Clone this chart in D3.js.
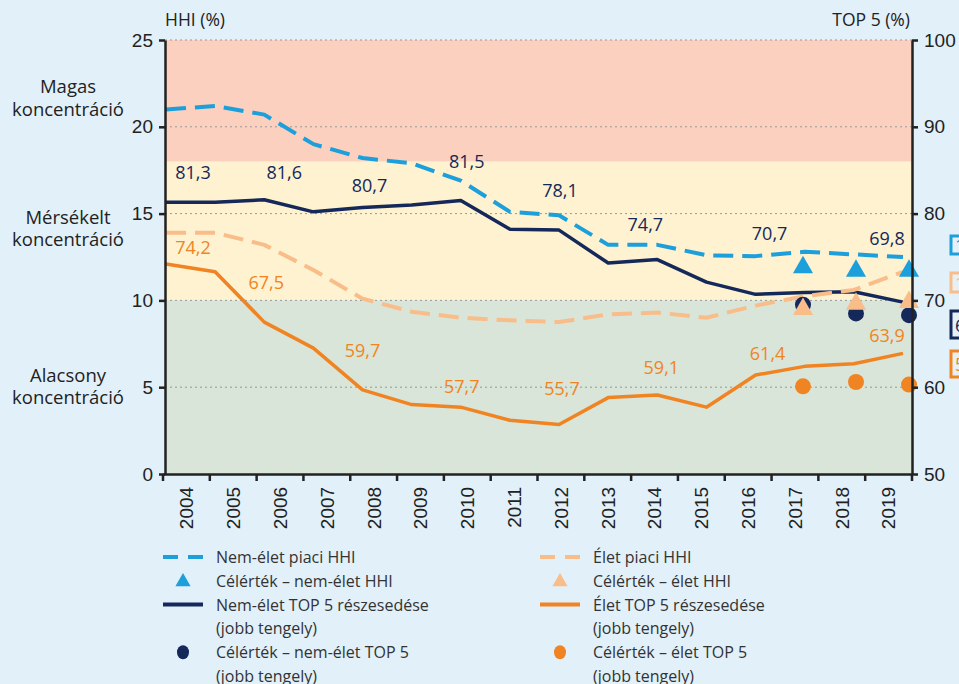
<!DOCTYPE html>
<html>
<head>
<meta charset="utf-8">
<script src="https://cdn.jsdelivr.net/npm/d3@7"></script>
<style>
  body { margin: 0; background: #e1f0f9; }
  svg { display: block; font-family: "Open Sans", sans-serif; }
  .axis path, .axis line { stroke: #222; }
  .axis text { fill: #222; }
</style>
</head>
<body>
<svg width="959" height="684"></svg>
<script>
var years = ["2004","2005","2006","2007","2008","2009","2010","2011","2012","2013","2014","2015","2016","2017","2018","2019"];

// HHI (left axis, %)
var hhiNonLife = [21.0, 21.2, 20.7, 19.0, 18.2, 17.9, 16.9, 15.1, 14.9, 13.2, 13.2, 12.6, 12.55, 12.8, 12.65, 12.5];
var hhiLife    = [13.9, 13.9, 13.2, 11.75, 10.1, 9.35, 9.0, 8.85, 8.75, 9.2, 9.3, 9.0, 9.7, 10.25, 10.6, 11.65];

// TOP 5 share (right axis, %)
var top5NonLife = [81.3, 81.3, 81.6, 80.2, 80.7, 81.0, 81.5, 78.2, 78.1, 74.3, 74.7, 72.1, 70.7, 70.9, 71.0, 69.8];
var top5Life    = [74.2, 73.3, 67.5, 64.5, 59.7, 58.0, 57.7, 56.2, 55.7, 58.8, 59.1, 57.7, 61.4, 62.4, 62.7, 63.9];

// target values
var targetYears = ["2017","2018","2019"];
var targetHhiNonLife  = [11.9, 11.7, 11.7];
var targetHhiLife     = [9.5, 9.8, 9.9];
var targetTop5NonLife = [69.5, 68.5, 68.3];
var targetTop5Life    = [60.1, 60.6, 60.3];

// labelled years
var labelYears = ["2004","2006","2008","2010","2012","2014","2016","2019"];
// label offsets [dx, dy] from the line point
var navyLabelOffsets = [[27,-30],[20,-28],[7,-23],[6,-40],[1,-40],[-12,-36],[14,-61],[-16,-64]];
var orangeLabelOffsets = [[27,-17],[2,-40],[0,-40],[1,-21],[3,-37],[4,-28],[12,-22],[-16,-18]];

var leftTicks = [0, 5, 10, 15, 20, 25];
var rightTicks = [50, 60, 70, 80, 90, 100];

// concentration zones on the HHI axis
var zones = [
  {from: 18, to: 25, color: "#fbd0bf", label: ["Magas", "koncentráció"], mid: 21.6},
  {from: 10, to: 18, color: "#fef2d0", label: ["Mérsékelt", "koncentráció"], mid: 14.1},
  {from: 0,  to: 10, color: "#d8e5d8", label: ["Alacsony", "koncentráció"], mid: 5.0}
];

var cNavy = "#14285a", cOrange = "#f18422", cBlue = "#1c9fdb", cLight = "#f9bd8a";

var svg = d3.select("svg");
var plotLeft = 165, plotRight = 912, plotTop = 40, plotBottom = 474;

var yL = d3.scaleLinear().domain([0, 25]).range([plotBottom, plotTop]);
var yR = d3.scaleLinear().domain([50, 100]).range([plotBottom, plotTop]);
var xBand = d3.scaleBand().domain(years).range([163, 912]);
var x = d3.scalePoint().domain(years).range([166, 903]);
var xT = d3.scalePoint().domain(targetYears).range([803, 909]);

// background zones
svg.selectAll(".zone")
  .data(zones)
  .enter().append("rect")
    .attr("x", plotLeft)
    .attr("y", function(d) { return yL(d.to); })
    .attr("width", plotRight - plotLeft)
    .attr("height", function(d) { return yL(d.from) - yL(d.to); })
    .style("fill", function(d) { return d.color; });

// zone labels
zones.forEach(function(z) {
  var t = svg.append("text")
    .attr("x", 68)
    .attr("y", yL(z.mid))
    .attr("text-anchor", "middle")
    .style("font-size", "18.5px")
    .style("fill", "#222");
  t.append("tspan").attr("x", 68).attr("dy", "-0.3em").text(z.label[0]);
  t.append("tspan").attr("x", 68).attr("dy", "1.22em").text(z.label[1]);
});

// dotted grid
svg.selectAll(".grid")
  .data(leftTicks.slice(1))
  .enter().append("line")
    .attr("x1", plotLeft).attr("x2", plotRight)
    .attr("y1", function(d) { return yL(d); })
    .attr("y2", function(d) { return yL(d); })
    .style("stroke", "#999")
    .style("stroke-width", 1)
    .style("stroke-dasharray", "2,3");

// lines
function drawLine(values, yScale, color, width, dash) {
  var line = d3.line()
    .x(function(d, i) { return x(years[i]); })
    .y(function(d) { return yScale(d); });
  svg.append("path")
    .datum(values)
    .attr("d", line)
    .style("fill", "none")
    .style("stroke", color)
    .style("stroke-width", width)
    .style("stroke-dasharray", dash || null)
    .style("stroke-linejoin", "round");
}
drawLine(top5NonLife, yR, cNavy, 3.5);
drawLine(top5Life, yR, cOrange, 3.5);
drawLine(hhiLife, yL, cLight, 4, "20,9");
drawLine(hhiNonLife, yL, cBlue, 4, "20,9");

// data labels
function drawLabels(values, offsets, color) {
  svg.selectAll(null)
    .data(labelYears)
    .enter().append("text")
      .attr("x", function(d, i) { return x(d) + offsets[i][0]; })
      .attr("y", function(d, i) { return yR(values[years.indexOf(d)]) + offsets[i][1]; })
      .attr("text-anchor", "middle")
      .attr("dominant-baseline", "central")
      .style("font-size", "18px")
      .style("fill", color)
      .text(function(d) { return String(values[years.indexOf(d)]).replace(".", ","); });
}
drawLabels(top5NonLife, navyLabelOffsets, cNavy);
drawLabels(top5Life, orangeLabelOffsets, cOrange);

// target markers
function drawDots(values, color) {
  svg.selectAll(null)
    .data(values)
    .enter().append("circle")
      .attr("cx", function(d, i) { return xT(targetYears[i]); })
      .attr("cy", function(d) { return yR(d); })
      .attr("r", 8)
      .style("fill", color);
}
function drawTriangles(values, color) {
  svg.selectAll(null)
    .data(values)
    .enter().append("path")
      .attr("d", d3.symbol().type(d3.symbolTriangle).size(175))
      .attr("transform", function(d, i) { return "translate(" + xT(targetYears[i]) + "," + yL(d) + ")"; })
      .style("fill", color);
}
drawDots(targetTop5NonLife, cNavy);
drawDots(targetTop5Life, cOrange);
drawTriangles(targetHhiNonLife, cBlue);
drawTriangles(targetHhiLife, cLight);

// axes
var gl = svg.append("g")
  .attr("class", "axis")
  .attr("transform", "translate(" + plotLeft + ",0)")
  .call(d3.axisLeft(yL).tickValues(leftTicks).tickSize(6).tickSizeOuter(0).tickPadding(6));
gl.selectAll("text").style("font-size", "19px");
gl.selectAll("path, line").style("stroke-width", 2.5);

var gr = svg.append("g")
  .attr("class", "axis")
  .attr("transform", "translate(" + plotRight + ",0)")
  .call(d3.axisRight(yR).tickValues(rightTicks).tickSize(6).tickSizeOuter(0).tickPadding(6));
gr.selectAll("text").style("font-size", "19px");
gr.selectAll("path, line").style("stroke-width", 2.5);

var gb = svg.append("g")
  .attr("class", "axis")
  .attr("transform", "translate(0," + plotBottom + ")")
  .call(d3.axisBottom(xBand).tickSize(0).tickPadding(0));
gb.select(".domain").style("stroke-width", 2.5);
gb.selectAll("text")
  .style("font-size", "19px")
  .style("text-anchor", "end")
  .attr("y", 0)
  .attr("dx", "-0.68em")
  .attr("dy", "0.36em")
  .attr("transform", "rotate(-90)");
gb.selectAll(null)
  .data(years.concat(["end"]))
  .enter().append("line")
    .attr("x1", function(d) { return d === "end" ? xBand.range()[1] : xBand(d); })
    .attr("x2", function(d) { return d === "end" ? xBand.range()[1] : xBand(d); })
    .attr("y1", 0).attr("y2", 7)
    .style("stroke", "#222")
    .style("stroke-width", 2.5);

// axis titles
svg.append("text").attr("x", plotLeft).attr("y", 26)
  .style("font-size", "17.5px").style("fill", "#222").text("HHI (%)");
svg.append("text").attr("x", plotRight - 2).attr("y", 26).attr("text-anchor", "end")
  .style("font-size", "17.5px").style("fill", "#222").text("TOP 5 (%)");

// cut-off value boxes on the right edge
var edgeBoxes = [
  {color: cBlue, y: 236, h: 18, text: "12,5"},
  {color: cLight, y: 273, h: 19, text: "11,7"},
  {color: cNavy, y: 311, h: 27, text: "69,8"},
  {color: cOrange, y: 351, h: 26, text: "58,4"}
];
edgeBoxes.forEach(function(b) {
  svg.append("rect")
    .attr("x", 951).attr("y", b.y).attr("width", 50).attr("height", b.h)
    .style("fill", "#e6f1f7").style("stroke", b.color).style("stroke-width", 3);
  svg.append("text")
    .attr("x", 955).attr("y", b.y + b.h / 2).attr("dominant-baseline", "central")
    .style("font-size", "18px").style("fill", b.color).text(b.text);
});

// legend
var legend = [
  {col: 0, row: 0, type: "dash", color: cBlue, lines: ["Nem-élet piaci HHI"]},
  {col: 0, row: 1, type: "tri", color: cBlue, lines: ["Célérték – nem-élet HHI"]},
  {col: 0, row: 2, type: "line", color: cNavy, lines: ["Nem-élet TOP 5 részesedése", "(jobb tengely)"]},
  {col: 0, row: 4, type: "dot", color: cNavy, lines: ["Célérték – nem-élet TOP 5", "(jobb tengely)"]},
  {col: 1, row: 0, type: "dash", color: cLight, lines: ["Élet piaci HHI"]},
  {col: 1, row: 1, type: "tri", color: cLight, lines: ["Célérték – élet HHI"]},
  {col: 1, row: 2, type: "line", color: cOrange, lines: ["Élet TOP 5 részesedése", "(jobb tengely)"]},
  {col: 1, row: 4, type: "dot", color: cOrange, lines: ["Célérték – élet TOP 5", "(jobb tengely)"]}
];
var lg = svg.append("g");
legend.forEach(function(d) {
  var lx = d.col === 0 ? 163 : 540, ly = 557 + d.row * 23.8;
  if (d.type === "dash") {
    lg.append("line").attr("x1", lx).attr("x2", lx + 40).attr("y1", ly).attr("y2", ly)
      .style("stroke", d.color).style("stroke-width", 4).style("stroke-dasharray", "15,10");
  } else if (d.type === "line") {
    lg.append("line").attr("x1", lx).attr("x2", lx + 40).attr("y1", ly).attr("y2", ly)
      .style("stroke", d.color).style("stroke-width", 4);
  } else if (d.type === "tri") {
    lg.append("path").attr("d", d3.symbol().type(d3.symbolTriangle).size(100))
      .attr("transform", "translate(" + (lx + 20) + "," + (ly + 1) + ")").style("fill", d.color);
  } else {
    lg.append("ellipse").attr("cx", lx + 20).attr("cy", ly).attr("rx", 6).attr("ry", 7).style("fill", d.color);
  }
  d.lines.forEach(function(t, j) {
    lg.append("text").attr("x", lx + 53).attr("y", ly + j * 23.8)
      .attr("dominant-baseline", "central")
      .style("font-size", "16px").style("fill", "#333").text(t);
  });
});
</script>
</body>
</html>
